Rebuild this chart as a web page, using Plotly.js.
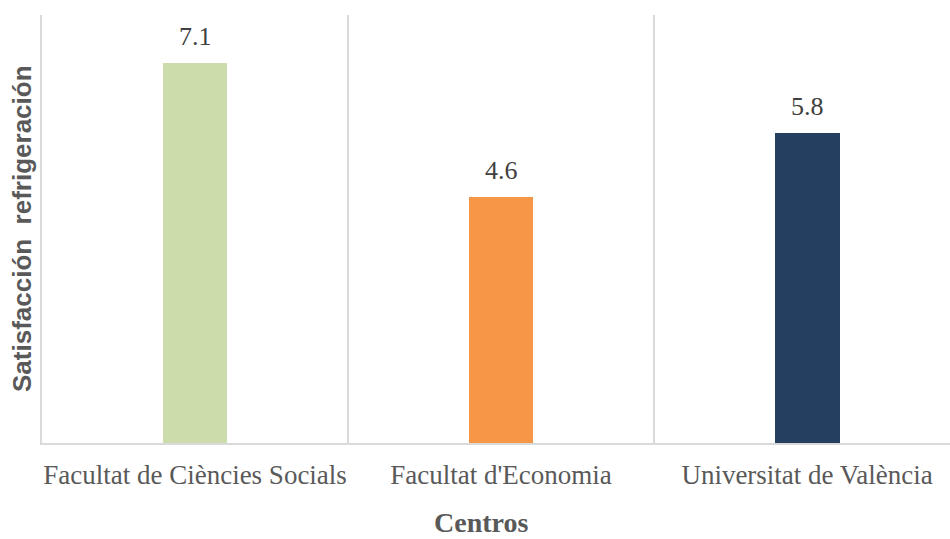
<!DOCTYPE html>
<html><head><meta charset="utf-8">
<script src="https://cdn.plot.ly/plotly-3.0.1.min.js"></script>
<style>html,body{margin:0;padding:0;overflow:hidden;background:#fff}</style>
</head><body>
<div id="chart" style="width:950px;height:539px"></div>
<script>
const categories = ["Facultat de Ciències Socials", "Facultat d'Economia", "Universitat de València"];
const values = [7.1, 4.6, 5.8];
const barColors = ["#cddcab", "#f79646", "#243f60"];
const labels = values.map(v => v.toFixed(1));
const xTitle = "Centros";
const yTitle = "Satisfacción  refrigeración";

const serif = "Liberation Serif, Times New Roman, serif";
const sans = "Liberation Sans, Arial, sans-serif";

const trace = {
  type: "bar",
  x: categories,
  y: values,
  width: 0.212,
  marker: {color: barColors},
  hoverinfo: "none"
};

const valueAnnotations = categories.map((c, i) => ({
  x: c, y: values[i], xref: "x", yref: "y",
  text: labels[i], showarrow: false,
  xanchor: "center", yanchor: "bottom", yshift: 10,
  font: {family: serif, size: 26, color: "#404040"}
}));

const layout = {
  width: 950, height: 539,
  margin: {l: 42, r: 0, t: 15, b: 96},
  paper_bgcolor: "#fff", plot_bgcolor: "#fff",
  showlegend: false,
  bargap: 0,
  xaxis: {
    type: "category",
    range: [-0.5, 2.467],
    tickson: "boundaries",
    showgrid: true, gridcolor: "#d9d9d9", gridwidth: 2,
    showline: true, linecolor: "#d9d9d9", linewidth: 2,
    ticks: "",
    tickangle: 0,
    ticklabelstandoff: 7,
    tickfont: {family: serif, size: 27, color: "#595959"},
    fixedrange: true
  },
  yaxis: {
    range: [0, 8],
    showgrid: false, zeroline: false,
    showticklabels: false, ticks: "",
    showline: true, linecolor: "#d9d9d9", linewidth: 2,
    fixedrange: true
  },
  annotations: valueAnnotations.concat([
    {xref: "paper", yref: "paper", x: (481 - 42) / 908, y: 0, yshift: -79,
     xanchor: "center", yanchor: "middle", showarrow: false, borderpad: 0,
     text: "<b>" + xTitle + "</b>",
     font: {family: serif, size: 28, color: "#595959"}},
    {xref: "paper", yref: "paper", x: 0, y: 0.5, xshift: -20,
     xanchor: "center", yanchor: "middle", showarrow: false, textangle: -90,
     text: "<b>" + yTitle + "</b>",
     font: {family: sans, size: 26, color: "#595959"}}
  ])
};

Plotly.newPlot("chart", [trace], layout, {displayModeBar: false, staticPlot: true});
</script>
</body></html>
